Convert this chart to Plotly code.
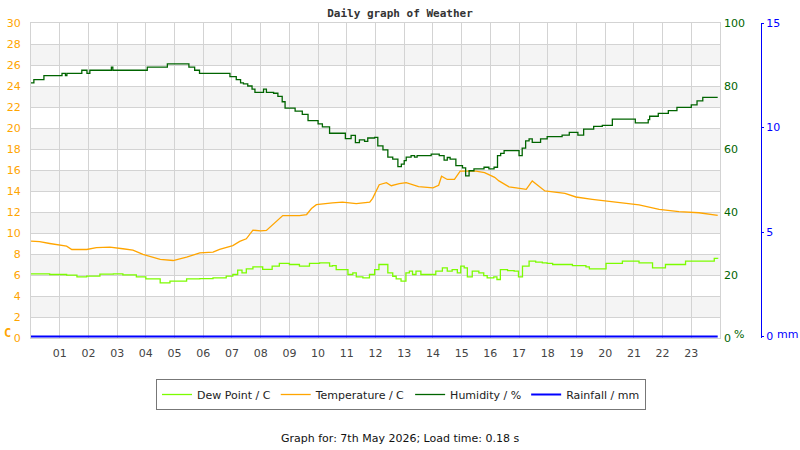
import plotly.graph_objects as go

# ---------------- data ----------------
hours = list(range(1, 24))
hour_labels = [f"{h:02d}" for h in hours]

dew_t = [0.0, 0.65, 1.24, 1.6, 1.94, 2.4, 2.87, 3.2, 3.67, 4.0, 4.5, 4.84, 5.42, 5.88, 6.34, 6.8,
         7.03, 7.2, 7.35, 7.5, 7.73, 8.07, 8.4, 8.65, 9.0, 9.35, 9.7, 10.05, 10.4, 10.5, 10.63,
         10.92, 11.04, 11.21, 11.33, 11.56, 11.79, 11.97, 12.12, 12.31, 12.43, 12.6, 12.72, 12.89,
         13.06, 13.18, 13.29, 13.41, 13.58, 13.87, 14.1, 14.33, 14.5, 14.67, 14.85, 14.97, 15.09,
         15.2, 15.37, 15.6, 15.77, 15.89, 16.12, 16.23, 16.35, 16.6, 16.83, 16.98, 17.12, 17.35,
         17.58, 17.81, 17.98, 18.17, 18.86, 19.33, 19.45, 20.03, 20.6, 21.18, 21.65, 22.1, 22.8,
         23.38, 23.8, 23.92]
dew_v = [6.11, 6.05, 5.98, 5.82, 5.89, 6.08, 6.11, 6.02, 5.82, 5.63, 5.25, 5.41, 5.63, 5.66, 5.72, 5.89,
         6.05, 6.46, 6.2, 6.59, 6.78, 6.53, 6.85, 7.1, 7.0, 6.85, 7.1, 7.16, 6.84, 6.9, 6.52,
         6.52, 6.05, 6.2, 5.83, 5.73, 6.05, 6.52, 7.0, 7.0, 6.2, 5.88, 5.63, 5.41,
         6.2, 6.36, 6.05, 6.36, 6.05, 6.05, 6.36, 6.68, 6.36, 6.52, 6.2, 6.84, 6.68,
         5.83, 6.36, 6.2, 5.95, 5.73, 5.83, 5.57, 6.52, 6.42, 6.36, 5.83, 6.84, 7.32,
         7.22, 7.16, 7.1, 7.0, 6.9, 6.78, 6.59, 7.1, 7.32, 7.16, 6.68, 7.0, 7.32,
         7.32, 7.58, 7.55]

temp_t = [0.0, 0.3, 0.65, 1.24, 1.42, 1.94, 2.28, 2.75, 3.2, 3.55, 3.9, 4.5, 4.95, 5.42, 5.88, 6.34,
          6.57, 7.03, 7.27, 7.5, 7.73, 8.0, 8.2, 8.55, 8.77, 9.35, 9.6, 9.77, 9.94, 10.5, 10.85,
          11.33, 11.8, 11.9, 12.13, 12.38, 12.55, 12.83, 13.07, 13.5, 14.0, 14.2, 14.3, 14.5,
          14.75, 14.95, 15.2, 15.5, 15.8, 16.15, 16.3, 16.65, 16.9, 17.25, 17.46, 17.9, 18.6,
          18.98, 19.55, 20.03, 20.72, 21.18, 21.88, 22.57, 23.27, 23.92]
temp_v = [9.23, 9.17, 9.0, 8.75, 8.43, 8.43, 8.6, 8.66, 8.5, 8.37, 7.96, 7.48, 7.38, 7.7, 8.1, 8.18,
          8.43, 8.8, 9.2, 9.45, 10.27, 10.2, 10.24, 11.12, 11.66, 11.66, 11.76, 12.33, 12.7, 12.86, 12.95,
          12.8, 12.95, 13.3, 14.6, 14.8, 14.5, 14.7, 14.8, 14.42, 14.3, 14.55, 15.4, 15.1,
          15.1, 15.9, 15.9, 15.9, 15.75, 15.3, 14.96, 14.4, 14.3, 14.16, 14.96, 14.0, 13.78,
          13.43, 13.21, 13.05, 12.83, 12.67, 12.25, 12.03, 11.93, 11.68]

hum_t = [0.0, 0.1, 0.45, 1.08, 1.2, 1.25, 1.77, 1.95, 2.05, 2.8, 2.85, 4.05, 4.75, 5.5, 5.7, 5.87,
         6.93, 7.15, 7.3, 7.4, 7.55, 7.7, 7.8, 8.1, 8.2, 8.45, 8.6, 8.75, 8.85, 9.2, 9.45, 9.65,
         10.0, 10.15, 10.4, 10.95, 11.15, 11.3, 11.44, 11.62, 11.73, 11.97, 12.08, 12.26, 12.43,
         12.6, 12.78, 12.9, 13.0, 13.07, 13.24, 13.36, 13.45, 13.94, 14.22, 14.39, 14.5, 14.6,
         14.8, 15.03, 15.14, 15.26, 15.43, 15.78, 15.95, 16.13, 16.25, 16.36, 16.48, 17.0, 17.11,
         17.23, 17.35, 17.46, 17.75, 17.98, 18.5, 18.75, 19.05, 19.25, 19.6, 19.9, 20.25,
         21.05, 21.5, 21.55, 21.85, 22.2, 22.5, 23.0, 23.2, 23.4, 23.92]
hum_v = [81.0, 82.0, 83.3, 84.0, 83.3, 84.0, 85.0, 84.0, 85.0, 86.0, 85.0, 86.0, 87.0, 86.0, 85.0, 84.0,
         83.0, 82.0, 81.0, 80.7, 80.0, 79.0, 78.0, 79.0, 78.0, 77.7, 76.7, 75.0, 73.0, 72.0, 71.0, 69.0,
         68.0, 67.0, 65.0, 63.3, 64.3, 62.0, 62.9, 62.4, 63.5, 63.7, 61.0, 59.7, 57.4,
         56.8, 54.4, 55.2, 56.3, 57.4, 57.9, 57.4, 57.9, 58.4, 57.9, 56.5, 57.3, 56.8,
         54.7, 54.0, 51.5, 53.1, 53.7, 54.2, 53.7, 54.2, 57.9, 58.6, 59.5, 57.9, 60.3,
         62.6, 63.2, 62.1, 63.2, 63.9, 64.4, 65.3, 64.4, 66.3, 67.2, 67.5, 69.5,
         68.3, 69.3, 70.4, 71.3, 72.2, 73.2, 74.0, 75.3, 76.4, 76.4]

rain_t = [0.0, 23.92]
rain_v = [0.0, 0.0]

band_starts = [2, 6, 10, 14, 18, 22, 26]

# ---------------- figure ----------------
W, H = 800, 450
ML, MR, MT = 31, 12, 23
PLOT_BOTTOM = 338
MB = H - PLOT_BOTTOM
PW = W - ML - MR
PH = H - MT - MB
X_END = 720
dom_end = (X_END - ML) / PW


def px_x(px):  # screen px -> paper x
    return (px - ML) / PW


def px_y(py):  # screen px -> paper y
    return (PLOT_BOTTOM - py) / PH


font_main = "DejaVu Sans"

fig = go.Figure()
fig.add_trace(go.Scatter(x=dew_t, y=dew_v, name="Dew Point / C", mode="lines",
                         line=dict(color="#7CFC00", width=1.3, shape="hv"), yaxis="y"))
fig.add_trace(go.Scatter(x=temp_t, y=temp_v, name="Temperature / C", mode="lines",
                         line=dict(color="#FFA500", width=1.3), yaxis="y"))
fig.add_trace(go.Scatter(x=hum_t, y=hum_v, name="Humidity / %", mode="lines",
                         line=dict(color="#006400", width=1.3, shape="hv"), yaxis="y2"))
fig.add_trace(go.Scatter(x=rain_t, y=rain_v, name="Rainfall / mm", mode="lines",
                         line=dict(color="#0000FF", width=2), yaxis="y3"))

shapes = []
for b in band_starts:
    shapes.append(dict(type="rect", xref="x", yref="y", x0=0, x1=24, y0=b, y1=b + 2,
                       fillcolor="#F4F4F4", line=dict(width=0), layer="below"))


def label(text, sx, sy, size, color, family=font_main):
    return dict(text=text, x=px_x(sx), y=px_y(sy), xref="paper", yref="paper",
                xanchor="center", yanchor="middle", showarrow=False,
                font=dict(size=size, color=color, family=family))


fig.update_layout(
    width=W, height=H,
    margin=dict(l=ML, r=MR, t=MT, b=MB, pad=0, autoexpand=False),
    paper_bgcolor="white", plot_bgcolor="white",
    font=dict(family=font_main, size=11, color="#333"),
    title=dict(text="<b>Daily graph of Weather</b>", x=400 / W, xref="container",
               xanchor="center", y=1 - 13 / H, yref="container", yanchor="middle",
               font=dict(family="DejaVu Sans Mono", size=11, color="#333")),
    xaxis=dict(domain=[0, dom_end], range=[0, 24], tickvals=hours, ticktext=hour_labels,
               showgrid=True, gridcolor="#D3D3D3", gridwidth=1, zeroline=False,
               showline=True, mirror=True, linecolor="#D3D3D3", linewidth=1,
               ticks="", ticklabelstandoff=5, automargin=False,
               tickfont=dict(size=11, color="#444")),
    yaxis=dict(range=[0, 30], dtick=2, showgrid=True, gridcolor="#D3D3D3", gridwidth=1,
               zeroline=False, showline=True, mirror=True, linecolor="#D3D3D3",
               ticks="", ticklabelstandoff=7, automargin=False,
               tickfont=dict(size=11, color="#FFA500")),
    yaxis2=dict(range=[0, 100], dtick=20, overlaying="y", side="right", anchor="x",
                showgrid=False, zeroline=False, showline=False, ticks="",
                ticklabelstandoff=3, automargin=False,
                tickfont=dict(size=11, color="#006400")),
    yaxis3=dict(range=[-0.07, 15], tickvals=[0, 5, 10, 15], overlaying="y", side="right",
                anchor="free", position=px_x(761), showgrid=False, zeroline=False,
                showline=True, linecolor="#0000FF", linewidth=1,
                ticks="outside", ticklen=2, tickcolor="#0000FF", automargin=False,
                tickfont=dict(size=11, color="#0000FF")),
    shapes=shapes,
    showlegend=True,
    legend=dict(orientation="h", x=px_x(401), xanchor="center", y=px_y(379), yanchor="top",
                bordercolor="#777", borderwidth=1, bgcolor="white",
                font=dict(size=11, color="#222"), itemwidth=30),
    annotations=[
        label("<b>C</b>", 7, 333, 12, "#FFA500", "DejaVu Sans Mono"),
        label("%", 739, 334, 11, "#006400"),
        label("mm", 787, 334, 11, "#0000FF"),
        label("Graph for: 7th May 2026; Load time: 0.18 s", 400, 438, 11, "#111"),
    ],
)

# remove the browser's default 8px body margin so the 800x450 figure fills the window
fig.write_html("out.html", config={"displayModeBar": False},
               post_script="document.body.style.margin='0';document.body.style.overflow='hidden';")
